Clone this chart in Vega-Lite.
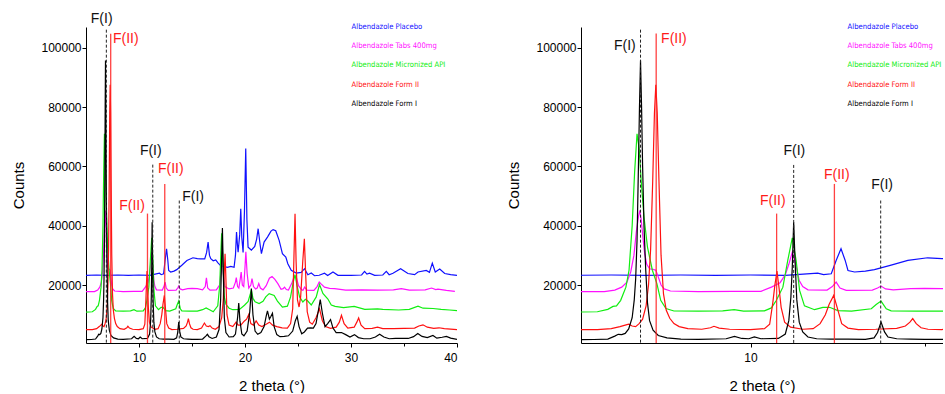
{
  "$schema": "https://vega.github.io/schema/vega-lite/v6.json",
  "padding": {"left": 11, "top": 11, "right": 0, "bottom": 0},
  "config": {
    "view": {"stroke": null},
    "font": "Liberation Sans",
    "axis": {"grid": false, "domainColor": "#000", "tickColor": "#000", "labelColor": "#000", "titleColor": "#000", "labelFont": "Liberation Sans", "titleFont": "Liberation Sans", "labelFontSize": 12, "titleFontSize": 15, "titleFontWeight": "normal", "format": "d"}
  },
  "data": {
    "values": "s,x,y\nP,5,23300\nP,6,23400\nP,7,23300\nP,8,23400\nP,9,23300\nP,10,23400\nP,11,23300\nP,11.93,24000\nP,12.1,23500\nP,12.32,23800\nP,12.46,28300\nP,12.6,32250\nP,12.72,28300\nP,12.8,24900\nP,12.99,24400\nP,13.3,24700\nP,13.56,25200\nP,14.04,26700\nP,14.52,28300\nP,15.09,29200\nP,15.5,28900\nP,15.82,28800\nP,16.2,28800\nP,16.38,31000\nP,16.52,34480\nP,16.65,30000\nP,16.77,28900\nP,17,28200\nP,17.24,28500\nP,17.45,27500\nP,17.71,26500\nP,18.34,26000\nP,18.66,26300\nP,18.97,26000\nP,19.1,30000\nP,19.2,37850\nP,19.3,33000\nP,19.35,31100\nP,19.5,37000\nP,19.6,45720\nP,19.7,36000\nP,19.82,31000\nP,19.95,45000\nP,20.07,66000\nP,20.18,42000\nP,20.29,32800\nP,20.6,31800\nP,20.92,33000\nP,21.1,35500\nP,21.24,39000\nP,21.43,33500\nP,21.55,30600\nP,21.8,34480\nP,22.12,36170\nP,22.45,38200\nP,22.65,38700\nP,22.9,38300\nP,23.22,35050\nP,23.53,30570\nP,23.85,29430\nP,24.04,27200\nP,24.36,24950\nP,24.83,24050\nP,25.3,24300\nP,25.62,25520\nP,25.93,23500\nP,26.25,24050\nP,26.56,23150\nP,27,23300\nP,27.5,24000\nP,27.8,23200\nP,28.3,24380\nP,28.77,23300\nP,30,23300\nP,31,23400\nP,31.28,24600\nP,31.5,23700\nP,31.75,24000\nP,32.23,23300\nP,33,23400\nP,33.33,24600\nP,33.6,23500\nP,33.96,24000\nP,34.68,25500\nP,35.37,23900\nP,36,23500\nP,36.32,24400\nP,37.1,24950\nP,37.4,24300\nP,37.67,27400\nP,37.95,24400\nP,38.37,25400\nP,38.84,23900\nP,39.4,23500\nP,40,23300\nT,5,17800\nT,5.8,17800\nT,6.1,18300\nT,6.3,19300\nT,6.45,21000\nT,6.56,24500\nT,6.65,30000\nT,6.72,38000\nT,6.78,43000\nT,6.82,45150\nT,6.86,42000\nT,6.91,36000\nT,6.96,30500\nT,7.02,27000\nT,7.1,25500\nT,7.2,25300\nT,7.28,25000\nT,7.35,22700\nT,7.43,20000\nT,7.52,18700\nT,7.7,18000\nT,8.5,17800\nT,9.5,17900\nT,10.3,17900\nT,10.6,19300\nT,10.85,20800\nT,11,23500\nT,11.1,27000\nT,11.2,31100\nT,11.3,27000\nT,11.4,21500\nT,11.5,19500\nT,11.65,18400\nT,12.2,18300\nT,12.35,19500\nT,12.46,21000\nT,12.57,19000\nT,12.75,18200\nT,13.5,18300\nT,13.65,19000\nT,13.75,19660\nT,13.88,18700\nT,14.1,18400\nT,14.6,18800\nT,15,18900\nT,15.5,18800\nT,16,18400\nT,16.25,19500\nT,16.36,22400\nT,16.48,19000\nT,16.7,18300\nT,17.3,18400\nT,17.6,20000\nT,17.75,25000\nT,17.85,30000\nT,17.95,24000\nT,18.1,19500\nT,18.5,18700\nT,18.9,19000\nT,19.1,21000\nT,19.18,22500\nT,19.3,19500\nT,19.42,19000\nT,19.55,22000\nT,19.64,24400\nT,19.75,20000\nT,19.88,19500\nT,20,26000\nT,20.08,31200\nT,20.2,24000\nT,20.36,19000\nT,20.55,20000\nT,20.66,22200\nT,20.8,19500\nT,21,18700\nT,21.15,19000\nT,21.3,20500\nT,21.45,19000\nT,21.7,18400\nT,22,19800\nT,22.3,22300\nT,22.55,22900\nT,22.8,22000\nT,23.1,20500\nT,23.4,18600\nT,23.6,18800\nT,23.73,19300\nT,23.9,18500\nT,24.1,18300\nT,24.4,20500\nT,24.65,23000\nT,24.85,22500\nT,25.05,19800\nT,25.3,18600\nT,25.46,18200\nT,25.62,19300\nT,25.85,18300\nT,26.5,18200\nT,26.8,19500\nT,27,21000\nT,27.2,20300\nT,27.5,19300\nT,27.98,18900\nT,28.45,18800\nT,29.5,18300\nT,31,18400\nT,32.5,18300\nT,34,18400\nT,34.75,18800\nT,35.5,18300\nT,37,18400\nT,37.6,19000\nT,38,18500\nT,38.2,18600\nT,39,18200\nT,39.8,17900\nM,5,10900\nM,5.6,11000\nM,5.9,11800\nM,6.05,12800\nM,6.15,13000\nM,6.27,14850\nM,6.42,19300\nM,6.51,25000\nM,6.6,40000\nM,6.67,58000\nM,6.74,71000\nM,6.8,66000\nM,6.86,55000\nM,6.94,42900\nM,7.04,32800\nM,7.18,25000\nM,7.31,20500\nM,7.42,14850\nM,7.57,12100\nM,7.8,11250\nM,8.5,11200\nM,9.2,11300\nM,9.53,11700\nM,9.8,11200\nM,10.4,11300\nM,10.6,12300\nM,10.74,14800\nM,10.93,19300\nM,11.07,28300\nM,11.2,35950\nM,11.31,28300\nM,11.41,18200\nM,11.55,13000\nM,11.84,11700\nM,12.08,12500\nM,12.27,12500\nM,12.51,11400\nM,12.9,11200\nM,13.47,12000\nM,13.61,13450\nM,13.75,14600\nM,13.9,12000\nM,14.04,11300\nM,14.8,11200\nM,15.5,11200\nM,16,11700\nM,16.33,12300\nM,16.7,11600\nM,17,11000\nM,17.43,13000\nM,17.62,20000\nM,17.72,31000\nM,17.8,37500\nM,17.9,30000\nM,18.05,16000\nM,18.2,13500\nM,18.5,12200\nM,18.85,11700\nM,19.48,11800\nM,19.95,13200\nM,20.3,14500\nM,20.5,17000\nM,20.6,18400\nM,20.75,15500\nM,20.95,14400\nM,21.33,13800\nM,21.7,14500\nM,21.96,16000\nM,22.28,17100\nM,22.75,16500\nM,23.06,14600\nM,23.53,12600\nM,24,12900\nM,24.3,16000\nM,24.55,21000\nM,24.72,23500\nM,24.9,20000\nM,25.15,16000\nM,25.46,14300\nM,25.7,15200\nM,25.9,14700\nM,26.25,13300\nM,26.72,16000\nM,27.03,20200\nM,27.35,17200\nM,27.82,15300\nM,28.14,13300\nM,28.5,12800\nM,29.3,12400\nM,30.3,12800\nM,31.3,11800\nM,32.5,12000\nM,33,11800\nM,34.5,11600\nM,35.5,11800\nM,36.32,12900\nM,36.8,12200\nM,37.74,12100\nM,38.5,11800\nM,39.3,11600\nM,40,11400\nF2,5,5000\nF2,5.6,5000\nF2,6,5300\nF2,6.25,6000\nF2,6.4,6500\nF2,6.5,6800\nF2,6.6,6200\nF2,6.7,6000\nF2,6.8,7000\nF2,6.9,8500\nF2,7,13000\nF2,7.07,20000\nF2,7.13,32000\nF2,7.19,55000\nF2,7.24,78000\nF2,7.28,87500\nF2,7.32,78000\nF2,7.37,55000\nF2,7.43,30000\nF2,7.5,17000\nF2,7.58,11500\nF2,7.68,8800\nF2,7.8,7000\nF2,7.95,6000\nF2,8.2,5300\nF2,8.6,5100\nF2,8.85,5600\nF2,8.95,6100\nF2,9.1,5500\nF2,9.4,5100\nF2,10,5000\nF2,10.4,5300\nF2,10.55,6800\nF2,10.64,14000\nF2,10.7,20000\nF2,10.76,24700\nF2,10.82,19000\nF2,10.88,12500\nF2,10.98,7500\nF2,11.15,5800\nF2,11.5,5100\nF2,11.8,5300\nF2,12,7000\nF2,12.15,10000\nF2,12.26,13500\nF2,12.39,16500\nF2,12.5,12000\nF2,12.62,7000\nF2,12.8,5500\nF2,13.1,5000\nF2,13.6,5100\nF2,14.2,5400\nF2,14.45,6200\nF2,14.58,7500\nF2,14.66,8700\nF2,14.76,7000\nF2,14.9,5600\nF2,15.1,5100\nF2,15.5,5000\nF2,15.9,5500\nF2,16.17,7200\nF2,16.35,6200\nF2,16.55,6000\nF2,16.7,6300\nF2,16.9,5500\nF2,17.2,5100\nF2,17.55,6000\nF2,17.8,9000\nF2,17.95,15000\nF2,18.05,25000\nF2,18.12,30570\nF2,18.2,22000\nF2,18.3,10000\nF2,18.5,6500\nF2,18.85,6000\nF2,19.16,7500\nF2,19.35,6500\nF2,19.6,6500\nF2,19.95,7900\nF2,20.15,8500\nF2,20.36,10100\nF2,20.55,7000\nF2,20.8,6500\nF2,21.05,7900\nF2,21.3,6500\nF2,21.6,6000\nF2,22,6800\nF2,22.31,7500\nF2,22.6,6500\nF2,23,6000\nF2,23.5,5600\nF2,24,5500\nF2,24.3,7000\nF2,24.5,12000\nF2,24.62,30000\nF2,24.72,44000\nF2,24.82,28000\nF2,24.95,15000\nF2,25.1,12600\nF2,25.25,16000\nF2,25.45,28000\nF2,25.6,35600\nF2,25.72,24000\nF2,25.87,11000\nF2,26.1,7500\nF2,26.35,6800\nF2,26.7,9000\nF2,27.03,12000\nF2,27.3,8000\nF2,27.6,6000\nF2,28.07,5400\nF2,28.6,5800\nF2,28.9,7500\nF2,29.1,9800\nF2,29.35,7000\nF2,29.7,5500\nF2,30.3,5800\nF2,30.55,7500\nF2,30.72,8900\nF2,30.95,6500\nF2,31.3,5300\nF2,32,5400\nF2,32.5,5800\nF2,33,5300\nF2,34,5300\nF2,35,5400\nF2,36,5500\nF2,36.4,6200\nF2,36.79,6600\nF2,37.2,5800\nF2,37.8,5400\nF2,38.3,5600\nF2,38.8,5300\nF2,40,5000\nF1,5,1600\nF1,5.5,1650\nF1,5.9,1800\nF1,6.1,2800\nF1,6.2,3400\nF1,6.3,3300\nF1,6.4,3700\nF1,6.5,5200\nF1,6.6,9000\nF1,6.66,15000\nF1,6.7,22000\nF1,6.74,35000\nF1,6.78,60000\nF1,6.81,80000\nF1,6.84,95700\nF1,6.87,80000\nF1,6.9,60000\nF1,6.94,40000\nF1,6.99,25000\nF1,7.04,14000\nF1,7.1,8000\nF1,7.2,4800\nF1,7.35,3000\nF1,7.6,2200\nF1,8,1800\nF1,8.5,1700\nF1,9.3,1900\nF1,9.54,2700\nF1,9.75,2000\nF1,9.95,1900\nF1,10.11,2500\nF1,10.3,1900\nF1,10.8,2000\nF1,11,3500\nF1,11.1,8000\nF1,11.16,16000\nF1,11.2,26000\nF1,11.24,41200\nF1,11.28,28000\nF1,11.33,15000\nF1,11.4,7500\nF1,11.5,4200\nF1,11.65,2500\nF1,11.9,1900\nF1,12.3,1800\nF1,12.8,1800\nF1,13.3,1700\nF1,13.55,2200\nF1,13.65,4000\nF1,13.75,7500\nF1,13.85,4200\nF1,13.95,2500\nF1,14.2,1900\nF1,14.6,1800\nF1,15,1700\nF1,15.5,1700\nF1,16,1800\nF1,16.3,2800\nF1,16.45,3400\nF1,16.6,2600\nF1,16.9,2000\nF1,17.3,2500\nF1,17.55,5000\nF1,17.7,15000\nF1,17.8,30000\nF1,17.87,39200\nF1,17.95,25000\nF1,18.05,9000\nF1,18.2,4000\nF1,18.5,2500\nF1,18.9,2600\nF1,19.1,3500\nF1,19.3,9000\nF1,19.41,13900\nF1,19.52,8000\nF1,19.7,3500\nF1,19.9,2900\nF1,20.2,4500\nF1,20.45,11000\nF1,20.6,18800\nF1,20.75,10000\nF1,20.95,4500\nF1,21.2,3400\nF1,21.5,4000\nF1,21.8,6000\nF1,22,9500\nF1,22.12,11300\nF1,22.3,8500\nF1,22.45,9500\nF1,22.59,10500\nF1,22.75,6000\nF1,23,3300\nF1,23.3,2600\nF1,23.7,2700\nF1,24.1,2900\nF1,24.5,4500\nF1,24.75,8000\nF1,24.92,9460\nF1,25.1,6000\nF1,25.35,3600\nF1,25.6,4200\nF1,25.9,5500\nF1,26.2,5600\nF1,26.45,5500\nF1,26.7,7000\nF1,26.9,11000\nF1,27.1,15080\nF1,27.3,10500\nF1,27.55,6000\nF1,27.8,7000\nF1,28.07,8350\nF1,28.3,5500\nF1,28.6,4000\nF1,29.1,4000\nF1,29.5,3300\nF1,29.9,2500\nF1,30.33,3300\nF1,30.7,2300\nF1,31.2,1900\nF1,31.8,1900\nF1,32.3,2500\nF1,32.7,3400\nF1,33.1,2500\nF1,33.6,1900\nF1,34.2,2000\nF1,34.8,2000\nF1,35.4,2000\nF1,35.9,2600\nF1,36.3,3700\nF1,36.7,2700\nF1,37.2,2300\nF1,37.73,3000\nF1,38.1,2100\nF1,38.6,2400\nF1,39,2700\nF1,39.4,2100\nF1,40,1700",
    "format": {"type": "csv", "parse": {"x": "number", "y": "number"}}
  },
  "datasets": {
    "ann": [
      {"p": "L", "f": "F(I)", "x": 6.92, "top": 106100, "lx": 6.48, "ly": 109700},
      {"p": "L", "f": "F(II)", "x": 7.33, "top": 104750, "lx": 8.75, "ly": 102960},
      {"p": "L", "f": "F(I)", "x": 11.3, "top": 60600, "lx": 11.11, "ly": 65120},
      {"p": "L", "f": "F(II)", "x": 12.43, "top": 54100, "lx": 13.0, "ly": 59190},
      {"p": "L", "f": "F(II)", "x": 10.8, "top": 44100, "lx": 9.34, "ly": 46500},
      {"p": "L", "f": "F(I)", "x": 13.8, "top": 48500, "lx": 15.1, "ly": 49630},
      {"p": "R", "f": "F(I)", "x": 6.84, "top": 106100, "lx": 6.39, "ly": 100700},
      {"p": "R", "f": "F(II)", "x": 7.29, "top": 104850, "lx": 7.8, "ly": 102960},
      {"p": "R", "f": "F(I)", "x": 11.24, "top": 60500, "lx": 11.26, "ly": 65120},
      {"p": "R", "f": "F(II)", "x": 12.41, "top": 54100, "lx": 12.48, "ly": 56940},
      {"p": "R", "f": "F(II)", "x": 10.75, "top": 44100, "lx": 10.64, "ly": 48500},
      {"p": "R", "f": "F(I)", "x": 13.74, "top": 48500, "lx": 13.78, "ly": 53570}
    ]
  },
  "spacing": 48,
  "resolve": {"scale": {"color": "independent", "x": "independent"}, "legend": {"color": "independent"}},
  "hconcat": [
    {
      "width": 371,
      "height": 316,
      "layer": [
        {
          "mark": {"type": "line", "strokeWidth": 1.2, "clip": true},
          "encoding": {
            "x": {"field": "x", "type": "quantitative", "scale": {"domain": [5, 40], "nice": false, "zero": false},
              "axis": {"title": "2 theta (°)", "values": [10, 15, 20, 25, 30, 35, 40], "labelExpr": "datum.value % 10 === 0 ? datum.label : ''", "tickSize": {"condition": {"test": "datum.value % 10 === 0", "value": 4}, "value": 3}, "labelPadding": 5, "titlePadding": 15}},
            "y": {"field": "y", "type": "quantitative", "scale": {"domain": [470, 107000], "nice": false, "zero": false},
              "axis": {"title": "Counts", "values": [20000, 30000, 40000, 50000, 60000, 70000, 80000, 90000, 100000], "labelExpr": "datum.value % 20000 === 0 ? datum.label : ''", "tickSize": {"condition": {"test": "datum.value % 20000 === 0", "value": 4}, "value": 3}, "labelPadding": 1, "titlePadding": 14}},
            "color": {"field": "s", "type": "nominal", "scale": {"domain": ["P", "T", "M", "F2", "F1"], "range": ["#1010ff", "#ff10ff", "#10ee10", "#ff1010", "#000000"]},
              "legend": {"orient": "none", "legendX": 256, "legendY": -4, "title": null, "symbolSize": 1, "symbolOpacity": 0, "symbolStrokeWidth": 0, "labelOffset": 2, "labelFontSize": 7.6, "labelFont": "Liberation Sans Narrow, DejaVu Sans Condensed", "rowPadding": 10.3, "labelExpr": "{'P':'Albendazole Placebo','T':'Albendazole Tabs 400mg','M':'Albendazole Micronized API','F2':'Albendazole Form II','F1':'Albendazole Form I'}[datum.value]",
                "encode": {"labels": {"update": {"fill": {"signal": "{'P':'#1010ff','T':'#ff10ff','M':'#10ee10','F2':'#ff1010','F1':'#000000'}[datum.value]"}}}}}
            }
          }
        },
        {
          "data": {"name": "ann"},
          "transform": [{"filter": "datum.p === 'L' && datum.f === 'F(I)'"}],
          "mark": {"type": "rule", "color": "#222", "strokeDash": [3, 2], "strokeWidth": 1},
          "encoding": {"x": {"field": "x", "type": "quantitative"}, "y": {"field": "top", "type": "quantitative"}, "y2": {"datum": 470}}
        },
        {
          "data": {"name": "ann"},
          "transform": [{"filter": "datum.p === 'L' && datum.f === 'F(II)'"}],
          "mark": {"type": "rule", "color": "#ff2020", "strokeWidth": 1.3, "opacity": 0.85},
          "encoding": {"x": {"field": "x", "type": "quantitative"}, "y": {"field": "top", "type": "quantitative"}, "y2": {"datum": 470}}
        },
        {
          "data": {"name": "ann"},
          "transform": [{"filter": "datum.p === 'L'"}],
          "mark": {"type": "text", "fontSize": 14, "font": "Liberation Sans", "baseline": "middle", "align": "center"},
          "encoding": {"x": {"field": "lx", "type": "quantitative"}, "y": {"field": "ly", "type": "quantitative"}, "text": {"field": "f"},
            "color": {"value": "#111", "condition": {"test": "datum.f === 'F(II)'", "value": "#ff1a1a"}}}
        }
      ]
    },
    {
      "width": 362,
      "height": 316,
      "layer": [
        {
          "mark": {"type": "line", "strokeWidth": 1.2, "clip": true},
          "encoding": {
            "x": {"field": "x", "type": "quantitative", "scale": {"domain": [5.13, 15.53], "nice": false, "zero": false},
              "axis": {"title": "2 theta (°)", "values": [10, 15], "labelExpr": "datum.value % 10 === 0 ? datum.label : ''", "tickSize": {"condition": {"test": "datum.value % 10 === 0", "value": 4}, "value": 3}, "labelPadding": 5, "titlePadding": 15}},
            "y": {"field": "y", "type": "quantitative", "scale": {"domain": [470, 107000], "nice": false, "zero": false},
              "axis": {"title": "Counts", "values": [20000, 30000, 40000, 50000, 60000, 70000, 80000, 90000, 100000], "labelExpr": "datum.value % 20000 === 0 ? datum.label : ''", "tickSize": {"condition": {"test": "datum.value % 20000 === 0", "value": 4}, "value": 3}, "labelPadding": 1, "titlePadding": 14}},
            "color": {"field": "s", "type": "nominal", "scale": {"domain": ["P", "T", "M", "F2", "F1"], "range": ["#1010ff", "#ff10ff", "#10ee10", "#ff1010", "#000000"]},
              "legend": {"orient": "none", "legendX": 257, "legendY": -4, "title": null, "symbolSize": 1, "symbolOpacity": 0, "symbolStrokeWidth": 0, "labelOffset": 2, "labelFontSize": 7.6, "labelFont": "Liberation Sans Narrow, DejaVu Sans Condensed", "rowPadding": 10.3, "labelLimit": 94, "labelExpr": "{'P':'Albendazole Placebo','T':'Albendazole Tabs 400mg','M':'Albendazole Micronized API','F2':'Albendazole Form II','F1':'Albendazole Form I'}[datum.value]",
                "encode": {"labels": {"update": {"ellipsis": {"value": ""}, "fill": {"signal": "{'P':'#1010ff','T':'#ff10ff','M':'#10ee10','F2':'#ff1010','F1':'#000000'}[datum.value]"}}}}}
            }
          }
        },
        {
          "data": {"name": "ann"},
          "transform": [{"filter": "datum.p === 'R' && datum.f === 'F(I)'"}],
          "mark": {"type": "rule", "color": "#222", "strokeDash": [3, 2], "strokeWidth": 1},
          "encoding": {"x": {"field": "x", "type": "quantitative"}, "y": {"field": "top", "type": "quantitative"}, "y2": {"datum": 470}}
        },
        {
          "data": {"name": "ann"},
          "transform": [{"filter": "datum.p === 'R' && datum.f === 'F(II)'"}],
          "mark": {"type": "rule", "color": "#ff2020", "strokeWidth": 1.3, "opacity": 0.85},
          "encoding": {"x": {"field": "x", "type": "quantitative"}, "y": {"field": "top", "type": "quantitative"}, "y2": {"datum": 470}}
        },
        {
          "data": {"name": "ann"},
          "transform": [{"filter": "datum.p === 'R'"}],
          "mark": {"type": "text", "fontSize": 14, "font": "Liberation Sans", "baseline": "middle", "align": "center"},
          "encoding": {"x": {"field": "lx", "type": "quantitative"}, "y": {"field": "ly", "type": "quantitative"}, "text": {"field": "f"},
            "color": {"value": "#111", "condition": {"test": "datum.f === 'F(II)'", "value": "#ff1a1a"}}}
        }
      ]
    }
  ]
}
